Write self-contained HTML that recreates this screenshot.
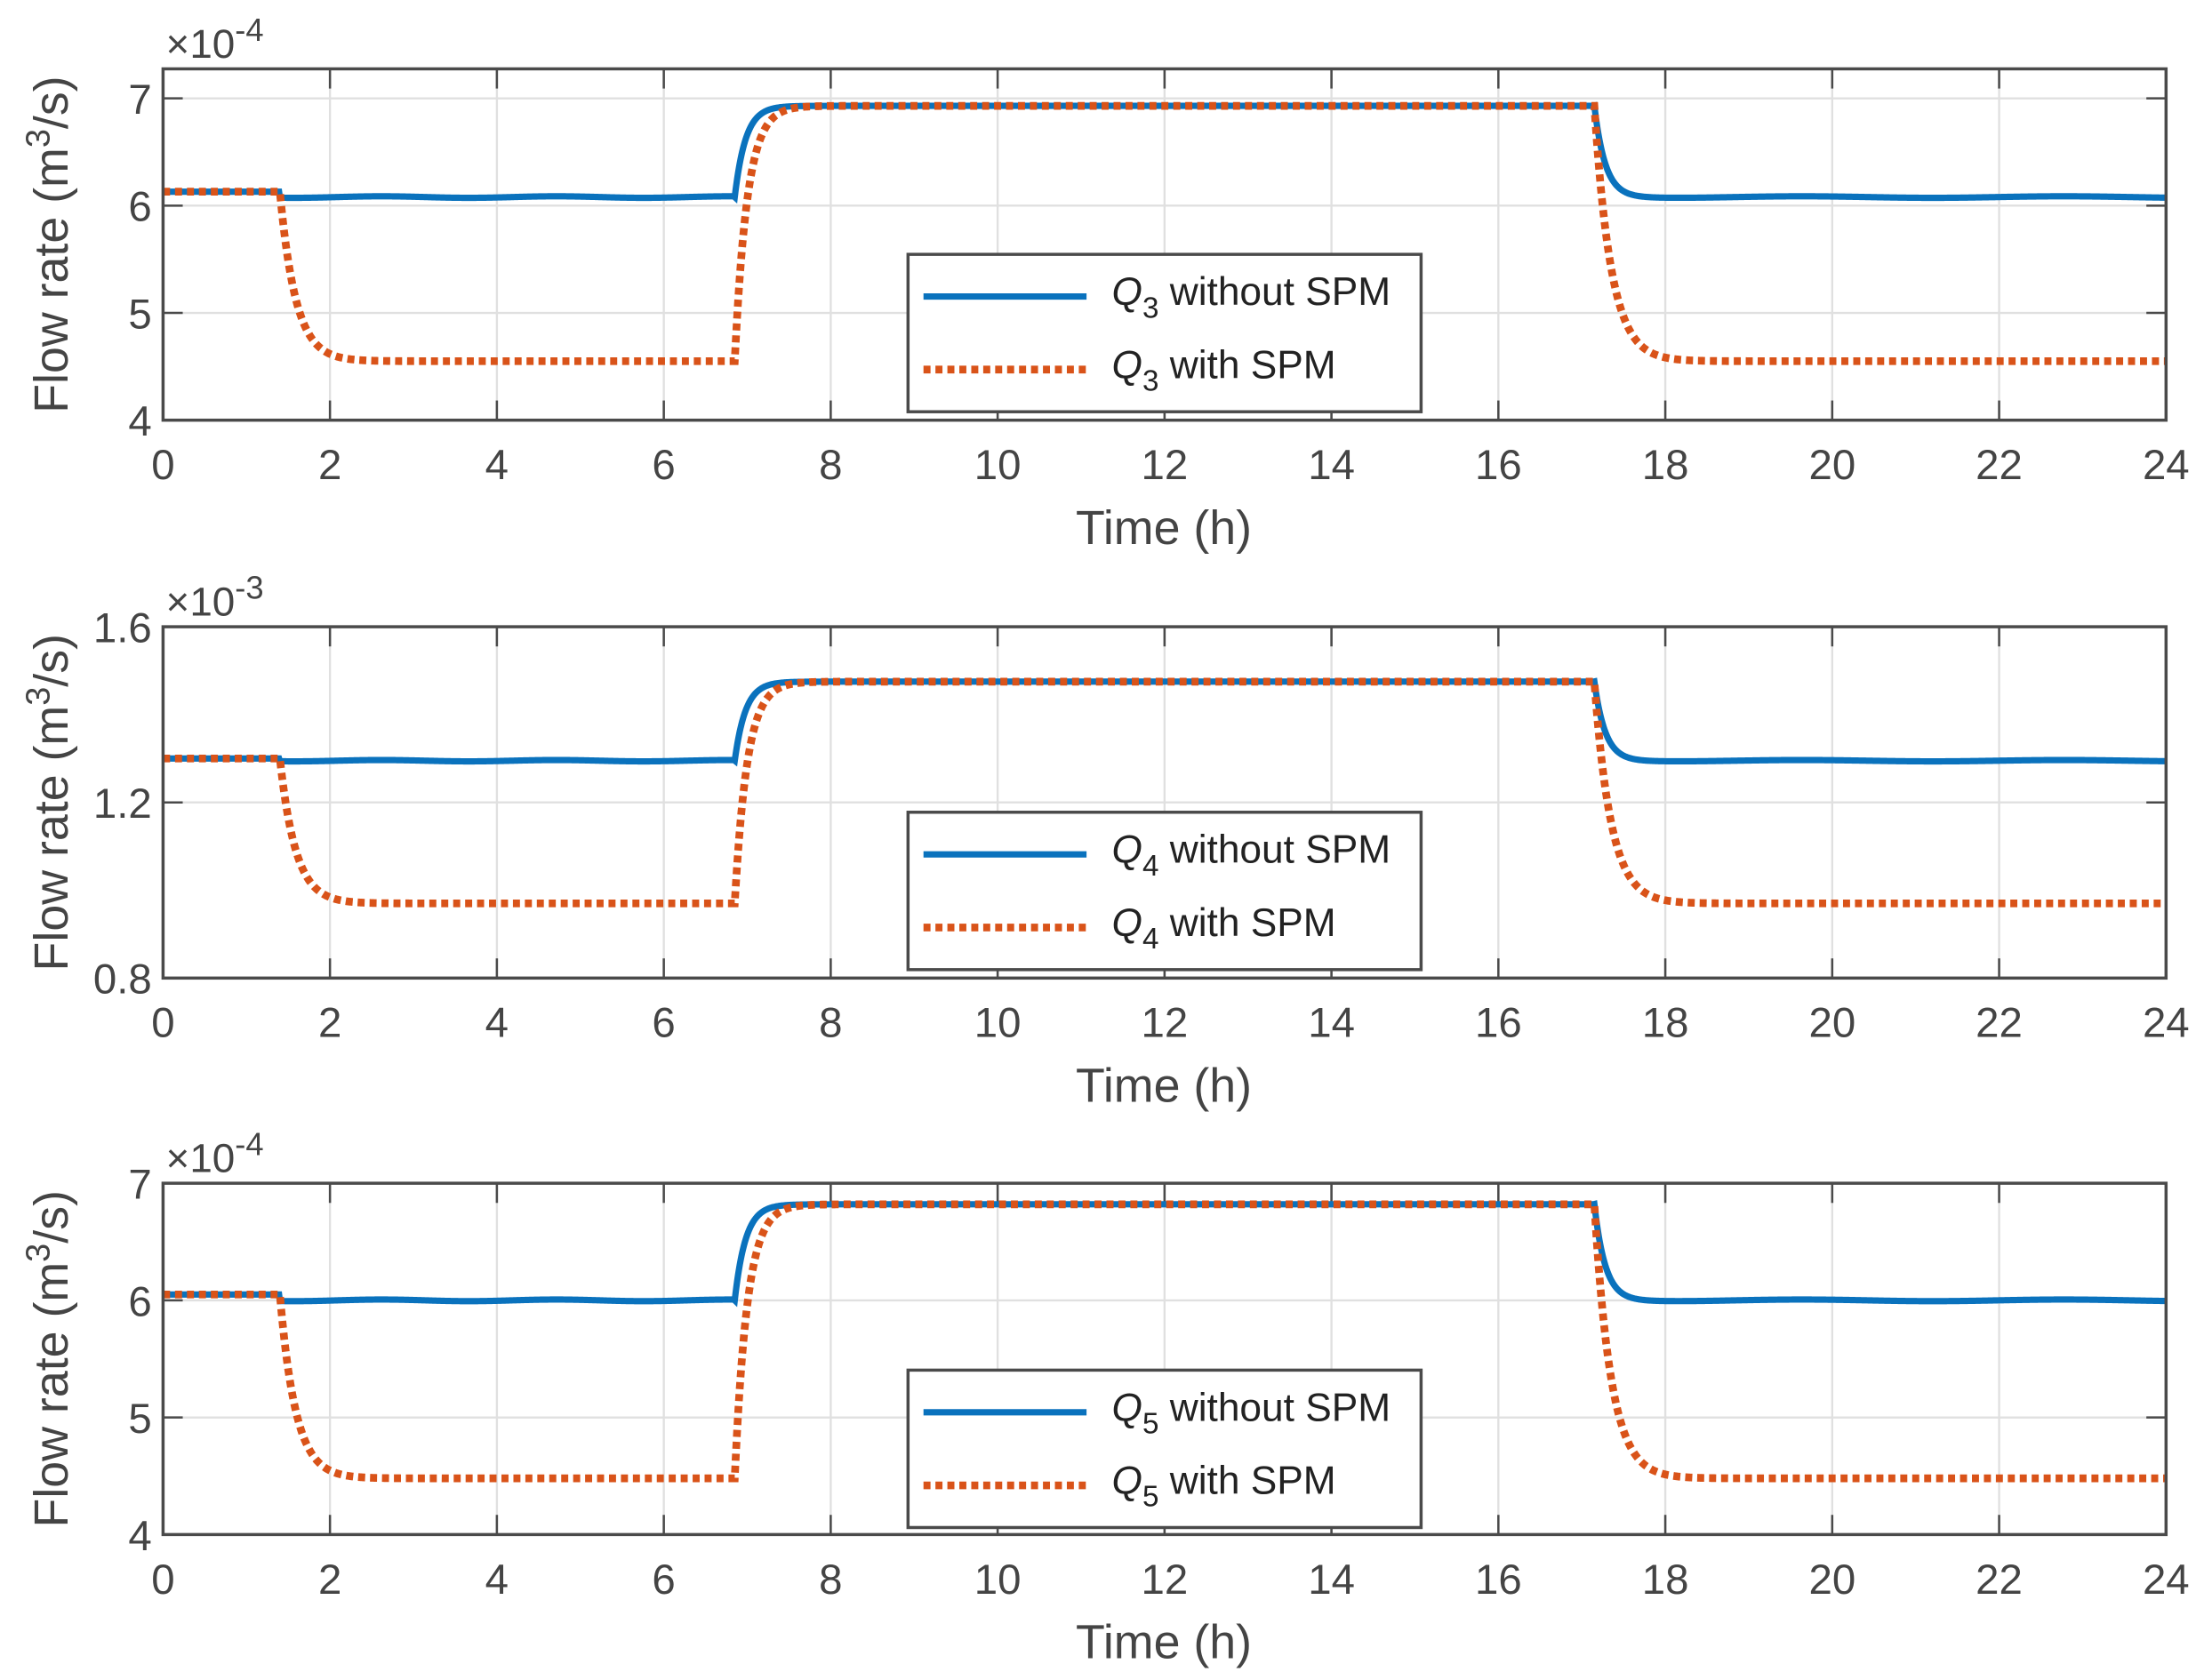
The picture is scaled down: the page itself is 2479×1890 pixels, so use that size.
<!DOCTYPE html>
<html><head><meta charset="utf-8"><style>
html,body{margin:0;padding:0;background:#fff}
svg{display:block}
text{font-family:"Liberation Sans",Arial,sans-serif;fill:#444}
</style></head><body>
<svg id="s" width="2479" height="1890" viewBox="0 0 1568 1195.5" preserveAspectRatio="none" xmlns="http://www.w3.org/2000/svg"></svg>
<script>
const S=document.getElementById('s');let h='';
const X0=116,X1=1541;const xs=t=>X0+(X1-X0)*t/24;
const panels=[
 {top:49,bot:299,ymin:4,ymax:7.275,ticks:[4,5,6,7],lab:['4','5','6','7'],exp:'-4',q:'3',
  st:6.13,bm:6.08,hi:6.93,lo:4.55,bl:6.08},
 {top:446,bot:696,ymin:0.8,ymax:1.6,ticks:[0.8,1.2,1.6],lab:['0.8','1.2','1.6'],exp:'-3',q:'4',
  st:1.30,bm:1.295,hi:1.475,lo:0.97,bl:1.295},
 {top:842,bot:1092,ymin:4,ymax:7.0,ticks:[4,5,6,7],lab:['4','5','6','7'],exp:'-4',q:'5',
  st:6.05,bm:6.0,hi:6.82,lo:4.48,bl:6.0}
];
function blue(p,t){
 if(t<1.4)return p.st;
 if(t<6.85)return p.bm+0.003*Math.sin(t*3)*(p.hi-p.lo);
 if(t<17.15){return p.hi-(p.hi-p.bm)*Math.exp(-(t-6.85)/0.13);}
 return p.bl+(p.hi-p.bl)*Math.exp(-(t-17.15)/0.13)+0.003*Math.sin(t*2)*(p.hi-p.lo);
}
function red(p,t){
 if(t<1.4)return p.st;
 if(t<6.85)return p.lo+(p.st-p.lo)*Math.exp(-(t-1.4)/0.19);
 if(t<17.15){return p.hi-(p.hi-p.lo)*Math.exp(-(t-6.85)/0.15);}
 return p.lo+(p.hi-p.lo)*Math.exp(-(t-17.15)/0.2);
}
panels.forEach((p,i)=>{
 const ys=v=>p.bot-(p.bot-p.top)*(v-p.ymin)/(p.ymax-p.ymin);
 for(let t=2;t<24;t+=2)h+=`<line x1="${xs(t)}" y1="${p.top}" x2="${xs(t)}" y2="${p.bot}" stroke="#e0e0e0" stroke-width="1.5"/>`;
 p.ticks.forEach(v=>{if(v>p.ymin&&v<p.ymax)h+=`<line x1="${X0}" y1="${ys(v)}" x2="${X1}" y2="${ys(v)}" stroke="#e0e0e0" stroke-width="1.5"/>`;});
 for(let t=2;t<24;t+=2){h+=`<line x1="${xs(t)}" y1="${p.bot}" x2="${xs(t)}" y2="${p.bot-14}" stroke="#4a4a4a" stroke-width="1.6"/><line x1="${xs(t)}" y1="${p.top}" x2="${xs(t)}" y2="${p.top+14}" stroke="#4a4a4a" stroke-width="1.6"/>`;}
 p.ticks.forEach(v=>{h+=`<line x1="${X0}" y1="${ys(v)}" x2="${X0+14}" y2="${ys(v)}" stroke="#4a4a4a" stroke-width="1.6"/><line x1="${X1}" y1="${ys(v)}" x2="${X1-14}" y2="${ys(v)}" stroke="#4a4a4a" stroke-width="1.6"/>`;});
 let db='',dr='';
 for(let k=0;k<=2400;k++){const t=k*0.01;db+=(k?'L':'M')+xs(t).toFixed(2)+','+ys(blue(p,t)).toFixed(2);dr+=(k?'L':'M')+xs(t).toFixed(2)+','+ys(red(p,t)).toFixed(2);}
 h+=`<path d="${db}" fill="none" stroke="#0a72bd" stroke-width="4.5"/>`;
 h+=`<path d="${dr}" fill="none" stroke="#d95319" stroke-width="5.5" stroke-dasharray="5 3.5"/>`;
 h+=`<rect x="${X0}" y="${p.top}" width="${X1-X0}" height="${p.bot-p.top}" fill="none" stroke="#4a4a4a" stroke-width="2.2"/>`;
 for(let t=0;t<=24;t+=2)h+=`<text x="${xs(t)}" y="${p.bot+42}" font-size="30" text-anchor="middle">${t}</text>`;
 p.ticks.forEach((v,j)=>{h+=`<text x="${X0-8}" y="${ys(v)+11}" font-size="30" text-anchor="end">${p.lab[j]}</text>`;});
 h+=`<text x="828" y="${p.bot+88}" font-size="34" text-anchor="middle">Time (h)</text>`;
 h+=`<text x="118" y="${p.top-8}" font-size="29">×10<tspan dy="-12" font-size="23">${p.exp}</tspan></text>`;
 const cy=(p.top+p.bot)/2;
 h+=`<text transform="translate(48,${cy}) rotate(-90)" font-size="34" text-anchor="middle">Flow rate (m<tspan dy="-13" font-size="24">3</tspan><tspan dy="13">/s)</tspan></text>`;
 const ly=181+i*397;
 h+=`<rect x="646" y="${ly}" width="365" height="112" fill="#fff" stroke="#4a4a4a" stroke-width="2.2"/>`;
 h+=`<line x1="657" y1="${ly+30}" x2="773" y2="${ly+30}" stroke="#0a72bd" stroke-width="4.5"/>`;
 h+=`<line x1="657" y1="${ly+82}" x2="773" y2="${ly+82}" stroke="#d95319" stroke-width="5.5" stroke-dasharray="5 3.5"/>`;
 h+=`<text x="791" y="${ly+36}" font-size="28" style="fill:#222"><tspan font-style="italic">Q</tspan><tspan dy="9" font-size="21">${p.q}</tspan><tspan dy="-9"> without SPM</tspan></text>`;
 h+=`<text x="791" y="${ly+88}" font-size="28" style="fill:#222"><tspan font-style="italic">Q</tspan><tspan dy="9" font-size="21">${p.q}</tspan><tspan dy="-9"> with SPM</tspan></text>`;
});
S.innerHTML=h;
</script>
</body></html>
